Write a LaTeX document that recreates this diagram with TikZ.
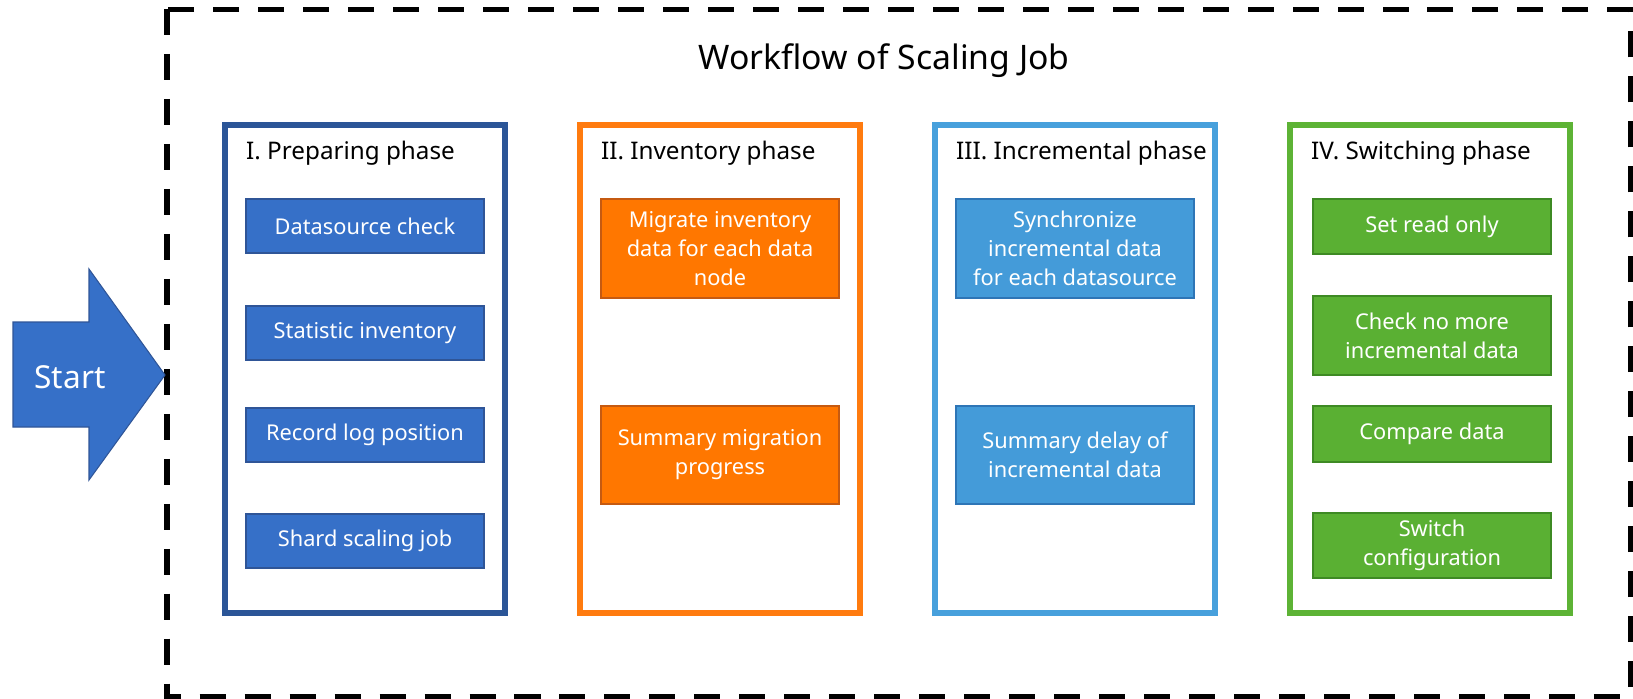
\documentclass[tikz,border=0pt]{standalone}
\usepackage{fontspec}
\setmainfont{Noto Sans}
\usetikzlibrary{positioning}
\definecolor{prepline}{HTML}{2B5597}
\definecolor{prepfill}{HTML}{3670C8}
\definecolor{prepdraw}{HTML}{2F5597}
\definecolor{invline}{HTML}{FF7B0F}
\definecolor{invfill}{HTML}{FF7700}
\definecolor{invdraw}{HTML}{C55A11}
\definecolor{incline}{HTML}{47A0DC}
\definecolor{incfill}{HTML}{449BD9}
\definecolor{incdraw}{HTML}{2E75B6}
\definecolor{swline}{HTML}{5DB335}
\definecolor{swfill}{HTML}{5AB033}
\definecolor{swdraw}{HTML}{3E8A24}

\begin{document}
\begin{tikzpicture}[x=0.02cm, y=-0.02cm,
    phase/.style={draw, line width=3.1pt, minimum width=5.6cm, minimum height=9.76cm},
    task/.style={draw, line width=0.9pt, text=white, minimum width=4.76cm, align=center,
      inner sep=0pt, font=\fontsize{12.4}{16.5}\selectfont},
    phasetitle/.style={anchor=base west, font=\fontsize{13.8}{17}\selectfont}]
    \useasboundingbox (0,0) rectangle (1633,698);
    \draw[line width=2.85pt, dash pattern=on 14.8pt off 10.8pt]
      (167,9) rectangle (1630,696);
    \node[anchor=base, font=\fontsize{19.2}{23}\selectfont]
      (title) at (884,69) {Workflow of Scaling Job};

    % start arrow
    \fill[prepfill, draw=prepdraw, line width=0.6pt]
      (13,322) -- (89,322) -- (89,269) -- (165,375) -- (89,480) -- (89,427) -- (13,427) -- cycle;
    \node[text=white, font=\fontsize{18}{22}\selectfont] (start) at (70,377) {Start};

    % I. preparing
    \node[phase, draw=prepline] (prep) at (365,369) {};
    \node[phasetitle] (preplabel) at (240,159) {I. Preparing phase};
    \node[task, fill=prepfill, draw=prepdraw, minimum height=1.08cm]
      (check) at (365,226) {Datasource check};
    \node[task, fill=prepfill, draw=prepdraw, minimum height=1.08cm]
      (stat) at (365,333) {Statistic inventory};
    \node[task, fill=prepfill, draw=prepdraw, minimum height=1.08cm]
      (logpos) at (365,435) {Record log position};
    \node[task, fill=prepfill, draw=prepdraw, minimum height=1.08cm]
      (shard) at (365,541) {Shard scaling job};

    % II. inventory
    \node[phase, draw=invline] (inv) at (720,369) {};
    \node[phasetitle] (invlabel) at (595,159) {II. Inventory phase};
    \node[task, fill=invfill, draw=invdraw, minimum height=1.98cm]
      (migrate) at (720,248.5) {Migrate inventory\\data for each data\\node};
    \node[task, fill=invfill, draw=invdraw, minimum height=1.96cm]
      (invsum) at (720,455) {Summary migration\\progress};

    % III. incremental
    \node[phase, draw=incline] (inc) at (1075,369) {};
    \node[phasetitle] (inclabel) at (950,159) {III. Incremental phase};
    \node[task, fill=incfill, draw=incdraw, minimum height=1.98cm]
      (sync) at (1075,248.5) {Synchronize\\incremental data\\for each datasource};
    \node[task, fill=incfill, draw=incdraw, minimum height=1.96cm]
      (delay) at (1075,455) {Summary delay of\\incremental data};

    % IV. switching
    \node[phase, draw=swline] (sw) at (1430,369) {};
    \node[phasetitle] (swlabel) at (1305,159) {IV. Switching phase};
    \node[task, fill=swfill, draw=swdraw, minimum height=1.1cm]
      (readonly) at (1432,226.5) {Set read only};
    \node[task, fill=swfill, draw=swdraw, minimum height=1.58cm]
      (nomore) at (1432,335.5) {Check no more\\incremental data};
    \node[task, fill=swfill, draw=swdraw, minimum height=1.12cm]
      (compare) at (1432,434) {Compare data};
    \node[task, fill=swfill, draw=swdraw, minimum height=1.3cm]
      (switch) at (1432,545.5) {Switch\\configuration};
  \end{tikzpicture}
\end{document}
